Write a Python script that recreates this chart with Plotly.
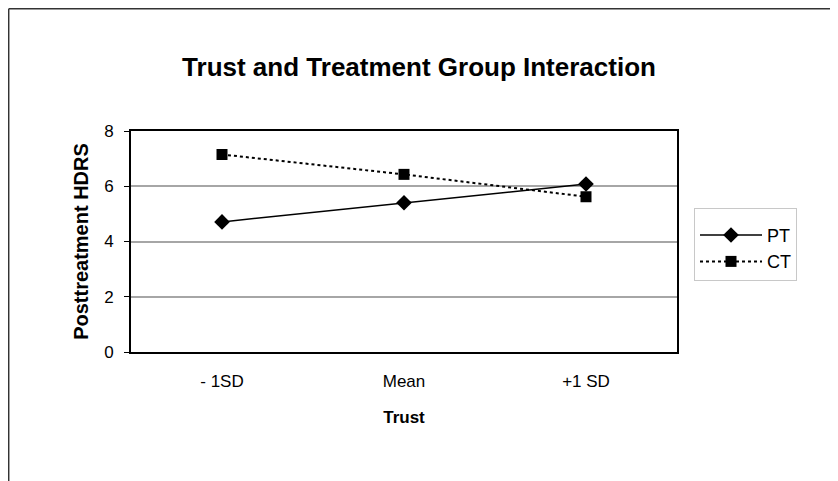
import plotly.graph_objects as go

categories = ["- 1SD", "Mean", "+1 SD"]
pt_values = [4.71, 5.40, 6.08]
ct_values = [7.15, 6.43, 5.62]
y_ticks = [0, 2, 4, 6, 8]

FONT = "Liberation Sans, Arial, sans-serif"

fig = go.Figure()
fig.add_trace(go.Scatter(
    x=categories, y=pt_values, name="PT", mode="lines+markers",
    line=dict(color="black", width=1.5),
    marker=dict(symbol="diamond", size=12, color="black"),
))
fig.add_trace(go.Scatter(
    x=categories, y=ct_values, name="CT", mode="lines+markers",
    line=dict(color="black", width=2, dash="dot"),
    marker=dict(symbol="square", size=11, color="black"),
))

# page is offset by the default 8px body margin
OFF = 8
L, T = 131 - OFF, 131 - OFF
pw, ph = 546, 221
W, H = 838, 481
R = W - L - pw
B = H - T - ph

def px_x(x):
    return (x - OFF - L) / pw

def px_y(y):
    return (T + ph - (y - OFF)) / ph

# outer chart frame (top and left edges visible)
fig.add_shape(type="line", xref="paper", yref="paper",
              x0=px_x(8.7), x1=px_x(900), y0=px_y(8.7), y1=px_y(8.7),
              line=dict(color="#333333", width=1.5))
fig.add_shape(type="line", xref="paper", yref="paper",
              x0=px_x(8.7), x1=px_x(8.7), y0=px_y(8.7), y1=px_y(520),
              line=dict(color="#333333", width=1.5))

fig.update_layout(
    width=W, height=H,
    margin=dict(l=L, r=R, t=T, b=B),
    paper_bgcolor="white", plot_bgcolor="white",
    font=dict(family=FONT, color="black", size=16),
    title=dict(text="<b>Trust and Treatment Group Interaction</b>",
               x=(419 - OFF) / W, xref="container", xanchor="center",
               y=1 - (67 - OFF) / H, yanchor="middle",
               font=dict(size=26, family=FONT, color="black")),
    xaxis=dict(
        title=dict(text="<b>Trust</b>", font=dict(size=17), standoff=21),
        range=[-0.5, 2.5], showline=True, linecolor="black", linewidth=2,
        mirror=True, ticks="", ticklabelstandoff=13,
        showgrid=False, zeroline=False,
        tickfont=dict(size=17),
    ),
    yaxis=dict(
        title=dict(text="<b>Posttreatment HDRS</b>", font=dict(size=20), standoff=10),
        range=[0, 8], tickvals=y_ticks, showline=True, linecolor="black",
        linewidth=2, mirror=True, ticks="outside", ticklen=5, tickcolor="black",
        ticklabelstandoff=7,
        showgrid=True, gridcolor="#a6a6a6", gridwidth=1.5, zeroline=False,
        tickfont=dict(size=17),
    ),
    legend=dict(
        x=px_x(694), y=px_y(208), xanchor="left", yanchor="top",
        bordercolor="#c8c8c8", borderwidth=1, bgcolor="white",
        font=dict(size=18), itemwidth=62, tracegroupgap=2,
        title=dict(text=" ", font=dict(size=6)),
    ),
    showlegend=True,
)

fig.write_html("out.html")
